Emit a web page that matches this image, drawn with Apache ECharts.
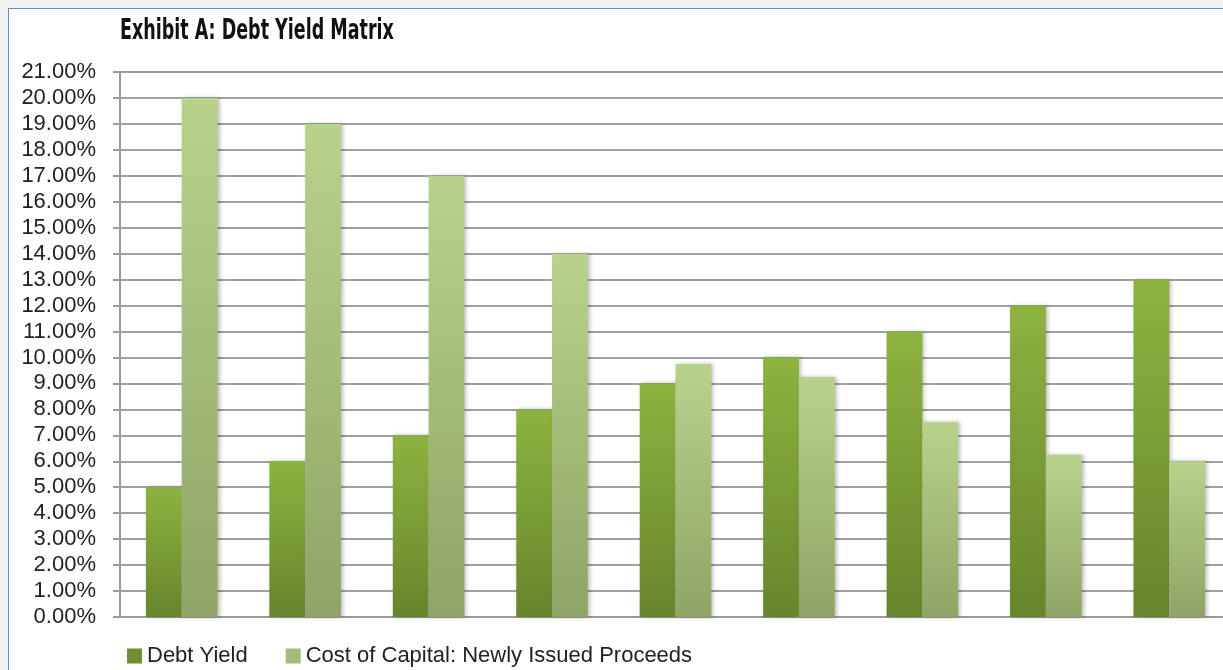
<!DOCTYPE html>
<html>
<head>
<meta charset="utf-8">
<script src="https://cdn.jsdelivr.net/npm/echarts@6/dist/echarts.min.js"></script>
<style>
html,body{margin:0;padding:0;background:#f2f2f2;overflow:hidden;width:1223px;height:670px;}
#frame{position:absolute;left:8px;top:8px;width:1215px;height:662px;background:#fff;border-left:1px solid #5a8ed8;border-top:1px solid #5a8ed8;}
#chart{position:absolute;left:0;top:0;width:1231px;height:670px;}
</style>
</head>
<body>
<div id="frame"></div>
<div id="chart"></div>
<script>
const categories = ['1','2','3','4','5','6','7','8','9'];
const debtYield = [5, 6, 7, 8, 9, 10, 11, 12, 13];
const costOfCapital = [20, 19, 17, 14, 9.75, 9.25, 7.5, 6.25, 6.0];
const seriesNames = ['Debt Yield', 'Cost of Capital: Newly Issued Proceeds'];
const titleText = 'Exhibit A: Debt Yield Matrix';
const yMax = 21;
const yStep = 1;

const chart = echarts.init(document.getElementById('chart'), null, {renderer:'canvas'});
function grad(top, bottom){
  return new echarts.graphic.LinearGradient(0,0,0,1,[{offset:0,color:top},{offset:1,color:bottom}]);
}
chart.setOption({
  backgroundColor:'transparent',
  animation:false,
  graphic:[{
    type:'text', x:120, y:18, scaleX:0.695,
    style:{text:titleText, font:"bold 28px 'DejaVu Sans Condensed', sans-serif", fill:'#111', textVerticalAlign:'top'}
  }],
  legend:{
    left:122, bottom:-2,
    itemWidth:15, itemHeight:15, itemGap:38,
    icon:'rect',
    textStyle:{fontFamily:"'Liberation Sans',Arial,sans-serif",fontSize:22,color:'#222'},
    data:[{name:seriesNames[0],itemStyle:{color:'#6f8f31'}},{name:seriesNames[1],itemStyle:{color:'#a3bb79'}}]
  },
  grid:{left:120, right:0, top:72, bottom:53},
  xAxis:{
    type:'category', data:categories,
    axisLine:{lineStyle:{color:'#9a9a9a',width:2}},
    axisTick:{show:false}, axisLabel:{show:false}
  },
  yAxis:{
    type:'value', min:0, max:yMax, interval:yStep,
    axisLine:{show:true,lineStyle:{color:'#9a9a9a',width:2}},
    axisTick:{show:true,length:7,lineStyle:{color:'#9a9a9a',width:2}},
    splitLine:{lineStyle:{color:'#a0a0a0',width:2}},
    axisLabel:{margin:24,fontFamily:"'Liberation Sans',Arial,sans-serif",fontSize:22,color:'#222',
      formatter:v=>v.toFixed(2)+'%'}
  },
  series:[
    {name:seriesNames[0], type:'bar', data:debtYield, barWidth:'29%', barGap:'0%',
     itemStyle:{color:grad('#8db33f','#67852c'),shadowBlur:4,shadowColor:'rgba(0,0,0,0.25)',shadowOffsetX:2}},
    {name:seriesNames[1], type:'bar', data:costOfCapital, barWidth:'29%', barGap:'0%',
     itemStyle:{color:grad('#b8d28b','#8fa466'),shadowBlur:4,shadowColor:'rgba(0,0,0,0.25)',shadowOffsetX:2}}
  ]
});
</script>
</body>
</html>
